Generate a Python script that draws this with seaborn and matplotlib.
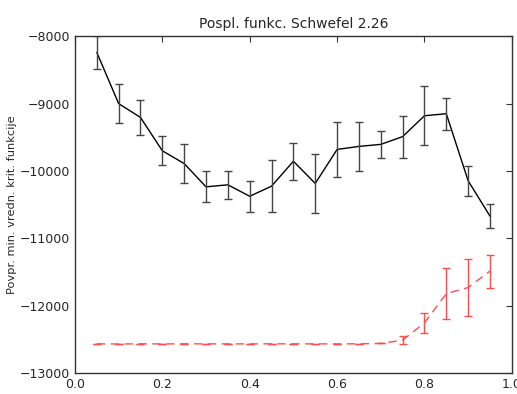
import numpy as np
import matplotlib
matplotlib.use("Agg")
import matplotlib.pyplot as plt
import seaborn as sns
import pandas as pd

F = [0.05, 0.10, 0.15, 0.20, 0.25, 0.30, 0.35, 0.40, 0.45, 0.50,
     0.55, 0.60, 0.65, 0.70, 0.75, 0.80, 0.85, 0.90, 0.95]

mean_a = [-8240, -9000, -9205, -9700, -9890, -10235, -10205, -10375, -10225, -9855,
          -10185, -9680, -9635, -9605, -9490, -9180, -9150, -10145, -10670]
err_a = [245, 290, 265, 215, 290, 230, 205, 230, 390, 275,
         440, 410, 365, 205, 310, 440, 240, 225, 180]

mean_b = [-12565, -12568, -12565, -12567, -12565, -12566, -12566, -12567, -12565, -12566,
          -12566, -12567, -12565, -12560, -12510, -12255, -11820, -11730, -11485]
err_b = [0, 0, 0, 0, 0, 0, 0, 0, 0, 0,
         0, 0, 0, 0, 60, 150, 375, 420, 245]

title = "Pospl. funkc. Schwefel 2.26"
xlabel = "F"
ylabel = "Povpr. min. vredn. krit. funkcije"

df = pd.DataFrame({"F": F, "a": mean_a, "b": mean_b})

sns.set_style("white")
plt.rcParams["font.family"] = ["DejaVu Sans"]

fig = plt.figure(figsize=(5.17, 3.94), dpi=100)
ax = fig.add_axes([0.145, 0.053, 0.845, 0.855])

sns.lineplot(data=df, x="F", y="a", color="black", linewidth=1.0, ax=ax)
ax.errorbar(F, mean_a, yerr=err_a, fmt="none", ecolor="#444444", elinewidth=1.0,
            capsize=3, capthick=1.0)

sns.lineplot(data=df, x="F", y="b", color="#ff4d4d", linewidth=1.0, ax=ax)
ax.lines[-1].set_linestyle((0, (6, 4)))
ax.errorbar(F, mean_b, yerr=err_b, fmt="none", ecolor="#ff4d4d", elinewidth=1.0,
            capsize=3, capthick=1.0)

ax.set_xlim(0.0, 1.0)
ax.set_ylim(-13000, -8000)
ax.set_xticks([0.0, 0.2, 0.4, 0.6, 0.8, 1.0])
ax.set_yticks([-13000, -12000, -11000, -10000, -9000, -8000])
ax.tick_params(direction="in", top=True, right=True, length=4, labelsize=9,
               color="#333333")
for s in ax.spines.values():
    s.set_color("#333333")
    s.set_linewidth(1.0)

ax.set_title(title, fontsize=10)
ax.set_xlabel(xlabel, fontsize=9)
ax.set_ylabel(ylabel, fontsize=8.2)
ax.yaxis.set_label_coords(-0.133, 0.5)

fig.savefig("out.png", dpi=100)
